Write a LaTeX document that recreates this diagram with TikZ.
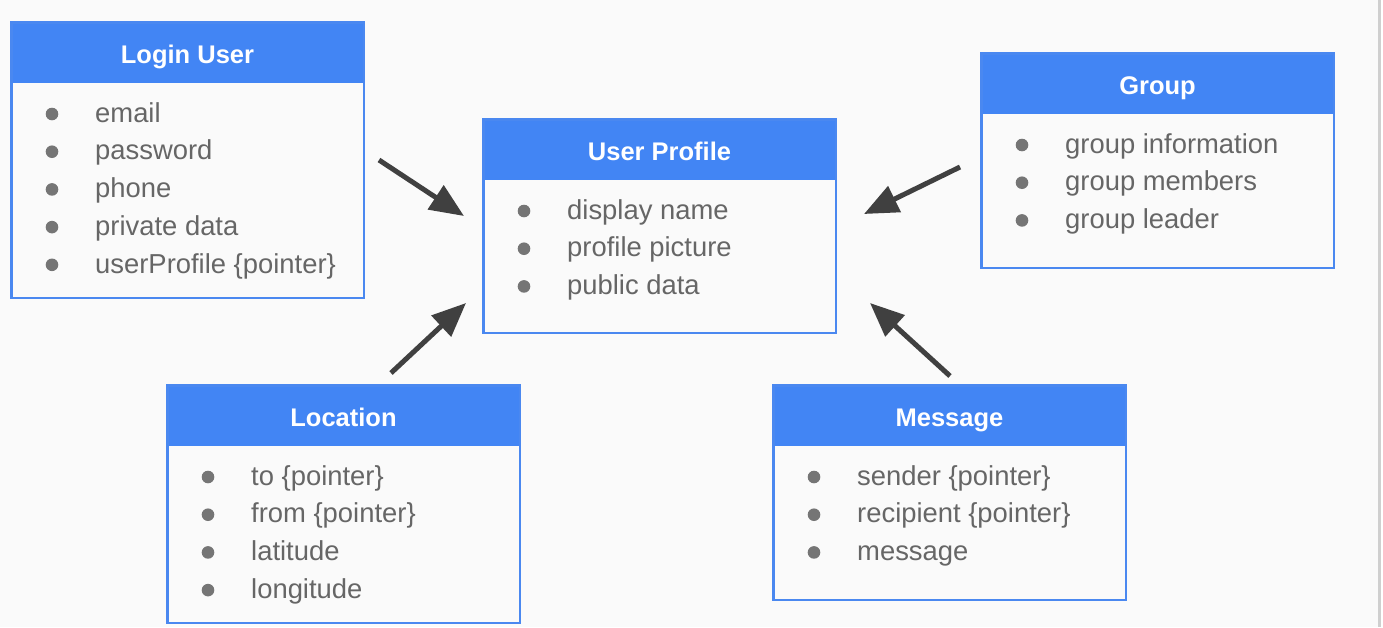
\documentclass[tikz,border=0pt]{standalone}
\usepackage{fontspec}
\setmainfont{Liberation Sans}
\usetikzlibrary{arrows.meta}
\definecolor{hdr}{HTML}{4285F4}
\definecolor{bordr}{HTML}{4A88F0}
\definecolor{txt}{HTML}{666666}
\definecolor{bul}{HTML}{757575}
\definecolor{arr}{HTML}{404040}
\definecolor{bg}{HTML}{FAFAFA}
\definecolor{edge}{HTML}{CFCFCF}
\newcommand\umlbox[6]{% #1 name, #2 x, #3 y, #4 outer height, #5 title, #6 items
  \fill[hdr] (#2,#3) rectangle ++(355,62);
  \node[boxframe, anchor=north west, minimum width=352.5pt, minimum height=#4pt-2.5pt] (#1) at (#2+1.25,#3+1.25) {};
  \node[titletext, anchor=base] (#1-t) at (#2+177.5,#3+42) {#5};
  \foreach \t [count=\i] in {#6} {
    \fill[bul] (#2+42,#3+93+37.7*\i-37.7) circle (6.3);
    \node[itemtext, anchor=base west] (#1-\i) at (#2+85,#3+101.2+37.7*\i-37.7) {\t};
  }
}
\begin{document}
\begin{tikzpicture}[x=1pt,y=-1pt,
  boxframe/.style={draw=bordr, line width=2.5pt, inner sep=0pt, outer sep=0pt},
  titletext/.style={text=white, font=\fontsize{25.5}{30}\selectfont\bfseries, inner sep=0pt},
  itemtext/.style={text=txt, font=\fontsize{27.4}{32}\selectfont, inner sep=0pt},
  link/.style={draw=arr, line width=5pt, -{Triangle[length=34pt,width=28pt]}}]
\fill[bg] (0,0) rectangle (1383,627);
\useasboundingbox (0,0) rectangle (1383,627);
\fill[edge] (1377.5,0) rectangle (1380.5,627);
\fill[white] (1380.5,0) rectangle (1383,627);

\umlbox{login}{10}{21}{278}{Login User}{email,password,phone,private data,userProfile \{pointer\}}
\umlbox{profile}{482}{118}{216}{User Profile}{display name,profile picture,public data}
\umlbox{group}{980}{52}{217}{Group}{group information,group members,group leader}
\umlbox{location}{166}{384}{240}{Location}{to \{pointer\},from \{pointer\},latitude,longitude}
\umlbox{message}{772}{384}{217}{Message}{sender \{pointer\},recipient \{pointer\},message}

\coordinate (a1s) at (379,160); \coordinate (a1e) at (464,216);
\coordinate (a2s) at (960,167); \coordinate (a2e) at (864,214);
\coordinate (a3s) at (391,373); \coordinate (a3e) at (466,303);
\coordinate (a4s) at (950,376); \coordinate (a4e) at (870,303);
\draw[link] (a1s) -- (a1e);
\draw[link] (a2s) -- (a2e);
\draw[link] (a3s) -- (a3e);
\draw[link] (a4s) -- (a4e);
\end{tikzpicture}
\end{document}
